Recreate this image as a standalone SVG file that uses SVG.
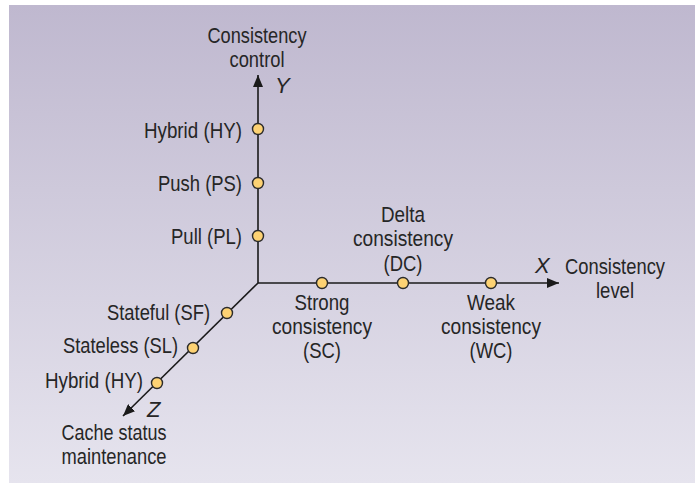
<svg xmlns="http://www.w3.org/2000/svg" width="695" height="488" viewBox="0 0 695 488">
<defs>
<linearGradient id="bg" x1="0" y1="0" x2="0" y2="1">
<stop offset="0" stop-color="#bfb8cf"/>
<stop offset="1" stop-color="#e6e4ee"/>
</linearGradient>
<marker id="arr" viewBox="0 0 12 10" refX="12" refY="5" markerUnits="userSpaceOnUse" markerWidth="12" markerHeight="10" orient="auto">
<path d="M0,0 L12,5 L0,10 z" fill="#1a1a1a"/>
</marker>
</defs>
<style>
text{font-family:"Liberation Sans",Arial,sans-serif;font-size:22px;fill:#262626;}
.m{text-anchor:middle}
.e{text-anchor:end}
.i{font-style:italic}
.axis{stroke:#1a1a1a;stroke-width:1.6;fill:none}
.pt{fill:#fdd273;stroke:#2b2b2b;stroke-width:1.4}
</style>
<rect x="9" y="5" width="686" height="478" fill="url(#bg)"/>
<g id="connectors">
<line class="axis" x1="258" y1="283" x2="258" y2="75" marker-end="url(#arr)"/>
<line class="axis" x1="258" y1="283" x2="559" y2="283" marker-end="url(#arr)"/>
<line class="axis" x1="258" y1="283" x2="123" y2="416" marker-end="url(#arr)"/>
</g>
<g id="axis-y-label"><text class="m" x="257" y="43" textLength="99" lengthAdjust="spacingAndGlyphs">Consistency</text><text class="m" x="257" y="67" textLength="55" lengthAdjust="spacingAndGlyphs">control</text><text class="i" x="275" y="93">Y</text></g>
<g id="axis-x-label"><text class="m" x="615" y="274" textLength="100" lengthAdjust="spacingAndGlyphs">Consistency</text><text class="m" x="615" y="298" textLength="38" lengthAdjust="spacingAndGlyphs">level</text><text class="i" x="535" y="273">X</text></g>
<g id="axis-z-label"><text class="m" x="114" y="440" textLength="105" lengthAdjust="spacingAndGlyphs">Cache status</text><text class="m" x="114" y="464" textLength="105" lengthAdjust="spacingAndGlyphs">maintenance</text><text class="i" x="147" y="417">Z</text></g>
<g id="node-y-hy"><circle class="pt" cx="258" cy="129" r="5.5"/><text class="e" x="242" y="138" textLength="98" lengthAdjust="spacingAndGlyphs">Hybrid (HY)</text></g>
<g id="node-y-ps"><circle class="pt" cx="258" cy="183" r="5.5"/><text class="e" x="242" y="191" textLength="84" lengthAdjust="spacingAndGlyphs">Push (PS)</text></g>
<g id="node-y-pl"><circle class="pt" cx="258" cy="236" r="5.5"/><text class="e" x="242" y="244" textLength="71" lengthAdjust="spacingAndGlyphs">Pull (PL)</text></g>
<g id="node-x-sc"><circle class="pt" cx="322" cy="283" r="5.5"/><text class="m" x="322" y="310" textLength="55" lengthAdjust="spacingAndGlyphs">Strong</text><text class="m" x="322" y="334" textLength="100" lengthAdjust="spacingAndGlyphs">consistency</text><text class="m" x="322" y="358" textLength="38" lengthAdjust="spacingAndGlyphs">(SC)</text></g>
<g id="node-x-dc"><circle class="pt" cx="403" cy="283" r="5.5"/><text class="m" x="403" y="222" textLength="44" lengthAdjust="spacingAndGlyphs">Delta</text><text class="m" x="403" y="246" textLength="100" lengthAdjust="spacingAndGlyphs">consistency</text><text class="m" x="403" y="271" textLength="39" lengthAdjust="spacingAndGlyphs">(DC)</text></g>
<g id="node-x-wc"><circle class="pt" cx="491" cy="283" r="5.5"/><text class="m" x="491" y="310" textLength="48" lengthAdjust="spacingAndGlyphs">Weak</text><text class="m" x="491" y="334" textLength="100" lengthAdjust="spacingAndGlyphs">consistency</text><text class="m" x="491" y="358" textLength="43" lengthAdjust="spacingAndGlyphs">(WC)</text></g>
<g id="node-z-sf"><circle class="pt" cx="227" cy="313" r="5.5"/><text class="e" x="210" y="320" textLength="103" lengthAdjust="spacingAndGlyphs">Stateful (SF)</text></g>
<g id="node-z-sl"><circle class="pt" cx="193" cy="348" r="5.5"/><text class="e" x="178" y="353" textLength="115" lengthAdjust="spacingAndGlyphs">Stateless (SL)</text></g>
<g id="node-z-hy"><circle class="pt" cx="157" cy="383" r="5.5"/><text class="e" x="143" y="388" textLength="98" lengthAdjust="spacingAndGlyphs">Hybrid (HY)</text></g>
</svg>
